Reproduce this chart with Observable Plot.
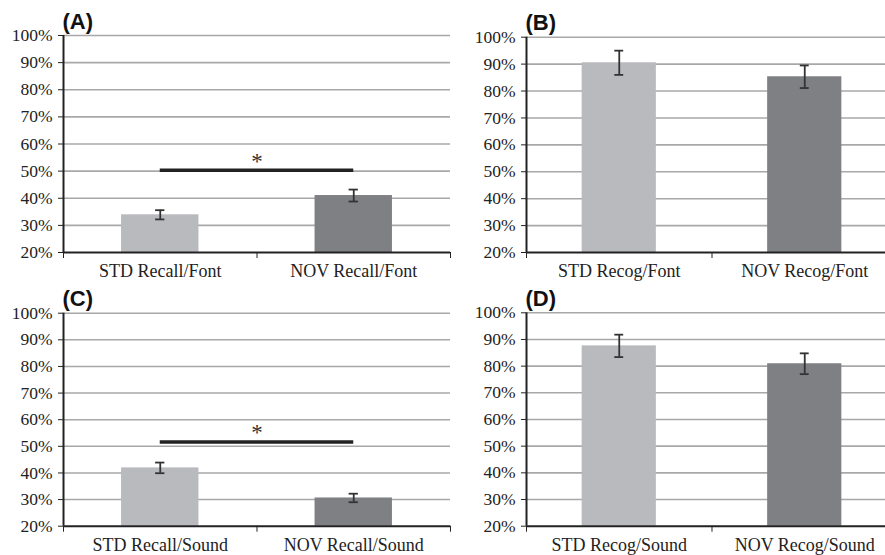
<!DOCTYPE html>
<html>
<head>
<meta charset="utf-8">
<script src="https://cdn.jsdelivr.net/npm/d3@7"></script>
<script src="https://cdn.jsdelivr.net/npm/@observablehq/plot@0.6"></script>
<style>
  html, body { margin: 0; padding: 0; background: #fff; overflow: hidden; }
  #root { position: relative; width: 885px; height: 555px; overflow: hidden; }
  .panel { position: absolute; }
</style>
</head>
<body>
<div id="root"></div>
<script>
// ---- Data ----
const panelLabels = ["(A)", "(B)", "(C)", "(D)"];
const categoriesA = ["STD Recall/Font", "NOV Recall/Font"];
const categoriesB = ["STD Recog/Font", "NOV Recog/Font"];
const categoriesC = ["STD Recall/Sound", "NOV Recall/Sound"];
const categoriesD = ["STD Recog/Sound", "NOV Recog/Sound"];
const valuesA = [33.9, 41.0];
const valuesB = [90.5, 85.3];
const valuesC = [41.9, 30.6];
const valuesD = [87.6, 80.9];
const errorsA = [1.7, 2.2];
const errorsB = [4.5, 4.2];
const errorsC = [2.0, 1.6];
const errorsD = [4.2, 3.9];
const significanceA = 50.3;   // bracket level, "*"
const significanceC = 51.6;
const yTicks = [20, 30, 40, 50, 60, 70, 80, 90, 100];

// ---- Styling / layout ----
const barColors = ["#b9babd", "#7f8084"];
const serif = '"Liberation Serif", "Times New Roman", serif';
const sans = '"Liberation Sans", Arial, sans-serif';
const root = document.getElementById("root");

function panel({label, categories, values, errors, sig, left, top, width, marginLeft, marginTop, height}) {
  const data = categories.map((c, i) => ({i, category: c, value: values[i], err: errors[i], fill: barColors[i]}));
  const cap = 0.024;
  const marks = [
    Plot.ruleY(yTicks.filter(t => t > 20), {stroke: "#a8a8a8", strokeWidth: 1.6}),
    Plot.rect(data, {x1: d => d.i + 0.3, x2: d => d.i + 0.7, y1: 20, y2: d => d.value, fill: d => d.fill}),
    Plot.ruleX(data, {x: d => d.i + 0.5, y1: d => d.value - d.err, y2: d => d.value + d.err, stroke: "#333", strokeWidth: 1.8}),
    Plot.ruleY(data, {y: d => d.value - d.err, x1: d => d.i + 0.5 - cap, x2: d => d.i + 0.5 + cap, stroke: "#333", strokeWidth: 1.8}),
    Plot.ruleY(data, {y: d => d.value + d.err, x1: d => d.i + 0.5 - cap, x2: d => d.i + 0.5 + cap, stroke: "#333", strokeWidth: 1.8}),
    Plot.ruleX([0], {stroke: "#222", strokeWidth: 2}),
    Plot.ruleY([20], {stroke: "#222", strokeWidth: 2}),
    Plot.text(data, {x: d => d.i + 0.5, y: 20, text: d => d.category, lineAnchor: "top", dy: 12, fontSize: 18, fill: "#222"}),
    Plot.text([label], {frameAnchor: "top-left", text: d => d, textAnchor: "start", lineAnchor: "middle", dx: -1, dy: -14,
      fontFamily: sans, fontWeight: "bold", fontSize: 22, fill: "#111"})
  ];
  if (sig != null) {
    marks.push(Plot.ruleY([sig], {x1: 0.5, x2: 1.5, stroke: "#222", strokeWidth: 3.5}));
    marks.push(Plot.text([sig], {x: 1, y: d => d, text: () => "*", dy: -9, fontSize: 23, fill: "#333"}));
  }
  const chart = Plot.plot({
    width, height,
    marginLeft, marginRight: 5, marginTop, marginBottom: 30,
    style: {fontFamily: serif, fontSize: "17.5px", color: "#222", background: "none", maxWidth: "none", overflow: "visible"},
    x: {domain: [0, 2], ticks: [0, 1, 2], tickFormat: () => "", tickSize: 6, label: null},
    y: {domain: [20, 100], ticks: yTicks, tickFormat: d => d + "%", tickSize: 5, tickPadding: 6, label: null},
    color: {type: "identity"},
    marks
  });
  // tick labels use the serif face of the original
  chart.querySelectorAll("text").forEach(t => {
    t.style.fontFamily = t.textContent === label ? sans : serif;
  });
  const div = document.createElement("div");
  div.className = "panel";
  div.style.left = left + "px";
  div.style.top = top + "px";
  div.style.width = width + "px";
  div.appendChild(chart);
  root.appendChild(div);
}

panel({label: panelLabels[0], categories: categoriesA, values: valuesA, errors: errorsA, sig: significanceA,
  left: 0, top: 0, width: 455, marginLeft: 63, marginTop: 35, height: 282});
panel({label: panelLabels[1], categories: categoriesB, values: valuesB, errors: errorsB, sig: null,
  left: 460, top: 0, width: 442, marginLeft: 66, marginTop: 36.7, height: 282});
panel({label: panelLabels[2], categories: categoriesC, values: valuesC, errors: errorsC, sig: significanceC,
  left: 0, top: 277, width: 455, marginLeft: 63, marginTop: 35.7, height: 278.7});
panel({label: panelLabels[3], categories: categoriesD, values: valuesD, errors: errorsD, sig: null,
  left: 460, top: 277, width: 442, marginLeft: 66, marginTop: 35.3, height: 278.7});
</script>
</body>
</html>
